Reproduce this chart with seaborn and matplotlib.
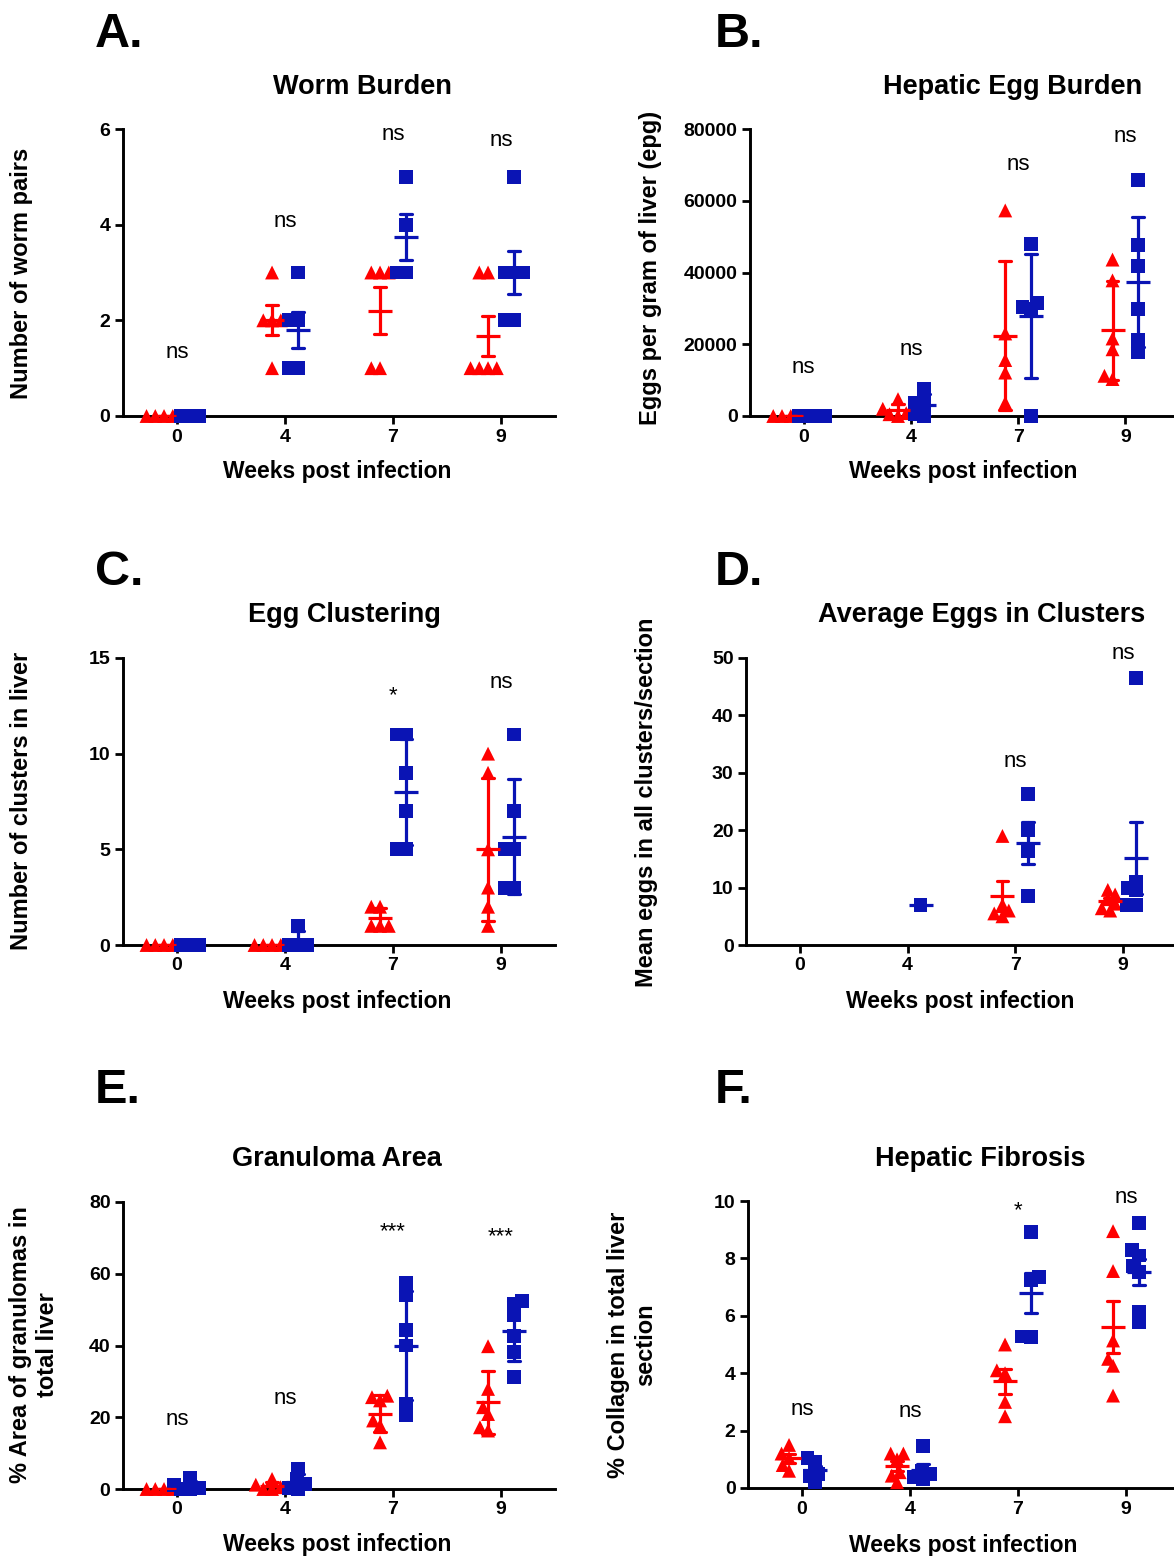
import warnings
warnings.filterwarnings('ignore')
import numpy as np
import pandas as pd
import matplotlib
matplotlib.use('Agg')
import matplotlib.pyplot as plt
import seaborn as sns

# ---------------- data ----------------
weeks = ['0', '4', '7', '9']
groups = ['Group 1', 'Group 2']

worm_red = [[0, 0, 0, 0], [3, 2, 2, 2, 1], [3, 3, 3, 1, 1], [3, 3, 1, 1, 1, 1]]
worm_blue = [[0, 0, 0], [3, 2, 2, 1, 1], [5, 4, 3, 3], [5, 3, 3, 3, 2, 2]]

egg_red = [[0, 0, 0, 0], [4700, 2000, 800, 500, 0],
           [57300, 23000, 15600, 12100, 3700],
           [43600, 37800, 21600, 18600, 10300, 11200]]
egg_blue = [[0, 0, 0, 0], [7500, 3700, 3700, 500, 0],
            [48000, 30300, 29800, 31400, 0],
            [65700, 47700, 41700, 29800, 17700, 21300]]

cluster_red = [[0, 0, 0, 0], [0, 0, 0, 0], [2, 2, 1, 1, 1], [10, 9, 5, 3, 2, 1]]
cluster_blue = [[0, 0, 0], [1, 0, 0, 0], [11, 11, 9, 7, 5, 5], [11, 7, 5, 5, 3, 3]]

avg_red = [[], [], [19, 7, 6, 5, 5.5], [9.6, 8.8, 8.0, 7.2, 6.4, 6.0]]
avg_blue = [[], [7], [26.3, 20, 16.4, 8.5], [46.5, 11, 10, 9.5, 7, 7]]

gran_red = [[0, 0, 0, 0], [2.8, 1.2, 0.5, 0, 0],
            [26, 25.6, 24.7, 19.1, 17.7, 13],
            [39.8, 27.9, 22.8, 20.9, 17.2, 16.3]]
gran_blue = [[3.2, 1.2, 0.3, 0, 0], [5.6, 2.8, 1.5, 0.3, 0],
             [57.5, 54, 44.2, 40, 23.7, 20.5],
             [52.4, 51.6, 48.4, 42.6, 38.1, 31.2]]

fib_red = [[1.5, 1.2, 1.05, 0.8, 0.6], [1.2, 1.2, 1.0, 0.55, 0.43, 0.2],
           [5.0, 4.1, 4.0, 3.0, 2.5], [8.95, 7.56, 5.14, 4.5, 4.26, 3.22]]
fib_blue = [[1.05, 0.9, 0.49, 0.43, 0.2], [1.45, 0.6, 0.49, 0.37, 0.31],
            [8.92, 7.35, 7.23, 5.26, 5.28],
            [9.23, 8.28, 8.1, 7.72, 7.52, 5.78, 6.13]]

sig_A = ['ns', 'ns', 'ns', 'ns']
sig_B = ['ns', 'ns', 'ns', 'ns']
sig_C = ['', '', '*', 'ns']
sig_D = ['', '', 'ns', 'ns']
sig_E = ['ns', 'ns', '***', '***']
sig_F = ['ns', 'ns', '*', 'ns']

# ---------------- style ----------------
W, H, DPI = 1174, 1556, 100
RED = '#FF0000'
BLUE = '#0A14B4'
DODGE = 0.12

sns.set_theme(style='ticks')
plt.rcParams['font.family'] = ['Liberation Sans', 'DejaVu Sans']
plt.rcParams['axes.linewidth'] = 2.0

panels = [
    dict(letter='A.', title='Worm Burden', ylabel='Number of worm pairs',
         red=worm_red, blue=worm_blue, yticks=[0, 2, 4, 6], err=('se', 1),
         sig=sig_A, sigy=[1.21, 3.95, 5.76, 5.64],
         box=(123, 129, 555, 416), let=(95, 47), tit=(362, 94),
         xl=(337, 478), yl=(22, 273)),
    dict(letter='B.', title='Hepatic Egg Burden', ylabel='Eggs per gram of liver (epg)',
         red=egg_red, blue=egg_blue, yticks=[0, 20000, 40000, 60000, 80000], err='sd',
         sig=sig_B, sigy=[12000, 17000, 68600, 76500],
         box=(750, 129, 1179, 416), let=(715, 47), tit=(1013, 94),
         xl=(963, 478), yl=(651, 268)),
    dict(letter='C.', title='Egg Clustering', ylabel='Number of clusters in liver',
         red=cluster_red, blue=cluster_blue, yticks=[0, 5, 10, 15], err='sd',
         sig=sig_C, sigy=[0, 0, 12.75, 13.43],
         box=(123, 658, 555, 945), let=(95, 585), tit=(344, 622),
         xl=(337, 1008), yl=(22, 801)),
    dict(letter='D.', title='Average Eggs in Clusters', ylabel='Mean eggs in all clusters/section',
         red=avg_red, blue=avg_blue, yticks=[0, 10, 20, 30, 40, 50], err=('se', 1),
         sig=sig_D, sigy=[0, 0, 31.0, 49.8],
         box=(746, 658, 1177, 945), let=(715, 585), tit=(982, 622),
         xl=(960, 1008), yl=(647, 802)),
    dict(letter='E.', title='Granuloma Area', ylabel='% Area of granulomas in\ntotal liver',
         red=gran_red, blue=gran_blue, yticks=[0, 20, 40, 60, 80], err='sd',
         sig=sig_E, sigy=[17.8, 23.7, 70.2, 68.9],
         box=(123, 1202, 555, 1489), let=(95, 1103), tit=(337, 1166),
         xl=(337, 1551), yl=(34, 1345)),
    dict(letter='F.', title='Hepatic Fibrosis', ylabel='% Collagen in total liver\nsection',
         red=fib_red, blue=fib_blue, yticks=[0, 2, 4, 6, 8, 10], err=('se', 1),
         sig=sig_F, sigy=[2.54, 2.47, 9.48, 9.93],
         box=(748, 1201, 1180, 1488), let=(715, 1103), tit=(980, 1166),
         xl=(963, 1552), yl=(632, 1345)),
]


def fx(px):
    return px / W


def fy(py):
    return 1 - py / H


def make_df(vals, group, off):
    rows = []
    for i, lst in enumerate(vals):
        for v in lst:
            rows.append({'week': weeks[i], 'group': group, 'pos': i + off, 'value': v})
    return pd.DataFrame(rows, columns=['week', 'group', 'pos', 'value'])


fig = plt.figure(figsize=(W / DPI, H / DPI), dpi=DPI)

for p in panels:
    l, t, r, b = p['box']
    ax = fig.add_axes([fx(l), fy(b), (r - l) / W, (b - t) / H])
    for vals, gname, color, marker, off in [
        (p['red'], groups[0], RED, '^', -DODGE),
        (p['blue'], groups[1], BLUE, 's', DODGE),
    ]:
        df = make_df(vals, gname, off)
        if df.empty:
            continue
        # negative edge width (edges not drawn) lets the swarm pack markers
        # with partial overlap, like the original scatter-dot layout
        sns.swarmplot(data=df, x='pos', y='value', native_scale=True, orient='x',
                      color=color, marker=marker, size=10, linewidth=-4,
                      edgecolor='none', clip_on=False, zorder=3, ax=ax)
        sns.pointplot(data=df, x='pos', y='value', native_scale=True, orient='x',
                      color=color, errorbar=p['err'], markers='_', markersize=17,
                      markeredgewidth=2.3, linestyles='none', capsize=0.11,
                      err_kws={'linewidth': 2.3, 'zorder': 4}, zorder=4, ax=ax)
    ax.set_xlim(-0.5, 3.5)
    ax.set_xticks(range(len(weeks)))
    ax.set_xticklabels(weeks)
    ax.set_ylim(p['yticks'][0], p['yticks'][-1])
    ax.set_yticks(p['yticks'])
    ax.set_xlabel('')
    ax.set_ylabel('')
    sns.despine(ax=ax)
    for sp in ['left', 'bottom']:
        ax.spines[sp].set_linewidth(2.1)
        ax.spines[sp].set_color('black')
    ax.tick_params(axis='both', length=6, width=2, labelsize=14, pad=3, colors='black')
    for lab in ax.get_xticklabels() + ax.get_yticklabels():
        lab.set_fontweight('bold')
    ax.grid(False)
    for i, (s, yv) in enumerate(zip(p['sig'], p['sigy'])):
        if s:
            ax.text(i, yv, s, ha='center', va='baseline', fontsize=16,
                    color='black', clip_on=False)

    fig.text(fx(p['let'][0]), fy(p['let'][1]), p['letter'], ha='left', va='baseline',
             fontsize=35, fontweight='bold', color='black')
    fig.text(fx(p['tit'][0]), fy(p['tit'][1]), p['title'], ha='center', va='baseline',
             fontsize=19.5, fontweight='bold', color='black')
    fig.text(fx(p['xl'][0]), fy(p['xl'][1]), 'Weeks post infection', ha='center',
             va='baseline', fontsize=16.5, fontweight='bold', color='black')
    fig.text(fx(p['yl'][0]), fy(p['yl'][1]), p['ylabel'], ha='center', va='center',
             rotation=90, fontsize=17, fontweight='bold', color='black',
             multialignment='center', linespacing=1.25)

fig.savefig('out.png', dpi=DPI, facecolor='white')
